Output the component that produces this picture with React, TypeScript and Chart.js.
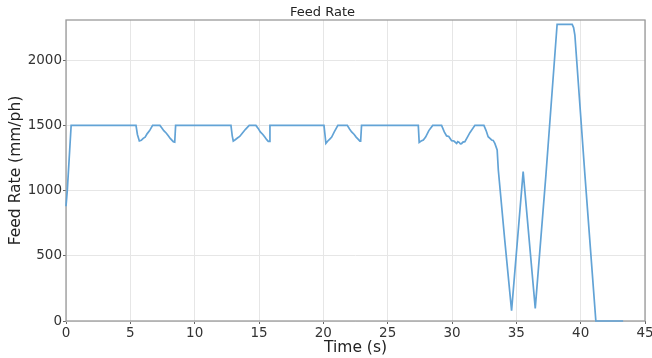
import { useEffect, useRef } from "react";
import { Chart, registerables } from "chart.js";

Chart.register(...registerables);

const timeS = [
  0, 0.1, 0.4, 5.44,
  5.55, 5.7, 5.85, 6.0, 6.15, 6.3, 6.5, 6.73, 7.3, 7.45, 7.6, 7.8, 7.95, 8.1, 8.34, 8.45, 8.52,
  12.82, 12.92, 13.0, 13.15, 13.35, 13.5, 13.7, 13.95, 14.24, 14.76, 14.95, 15.1, 15.3, 15.45, 15.6, 15.72, 15.78, 15.85,
  20.05, 20.2, 20.35, 20.5, 20.65, 20.85, 21.13, 21.86, 22.05, 22.2, 22.4, 22.55, 22.7, 22.84, 22.9, 22.97,
  27.38, 27.45, 27.6, 27.77, 27.95, 28.2, 28.5, 29.19, 29.4, 29.58, 29.75, 29.97, 30.15, 30.36, 30.45, 30.56, 30.65, 30.74, 30.85, 31.0, 31.2, 31.39, 31.78,
  32.48, 32.65, 32.81, 32.95, 33.08, 33.2, 33.33, 33.51, 33.6, 34.1, 34.63,
  35.53, 36.47, 37.3, 38.17, 39.34, 39.45, 39.55, 40.33, 41.18, 43.3,
];

const feedRate = [
  880, 1000, 1500, 1500,
  1430, 1380, 1385, 1400, 1410, 1435, 1460, 1500, 1500, 1480, 1459, 1440, 1420, 1400, 1375, 1372, 1500,
  1500, 1420, 1380, 1390, 1405, 1415, 1440, 1470, 1500, 1500, 1475, 1450, 1430, 1410, 1390, 1378, 1378, 1500,
  1500, 1362, 1380, 1395, 1410, 1450, 1500, 1500, 1470, 1450, 1430, 1410, 1395, 1380, 1380, 1500,
  1500, 1370, 1380, 1388, 1410, 1460, 1500, 1500, 1450, 1419, 1415, 1383, 1380, 1362, 1375, 1370, 1358, 1360, 1372, 1375, 1410, 1444, 1500,
  1500, 1460, 1413, 1400, 1388, 1385, 1362, 1311, 1158, 620, 79,
  1145, 97, 1120, 2275, 2275, 2250, 2193, 1120, 0, 0,
];

const xTicks = [0, 5, 10, 15, 20, 25, 30, 35, 40, 45];
const yTicks = [0, 500, 1000, 1500, 2000];

const FONT = "'DejaVu Sans', sans-serif";

export default function App() {
  const ref = useRef<HTMLCanvasElement>(null);

  useEffect(() => {
    document.body.style.margin = "0";
    const frame = {
      id: "frame",
      beforeDatasetsDraw(chart: any) {
        const { ctx, chartArea } = chart;
        const { left, top, right, bottom } = chartArea;
        ctx.save();
        ctx.strokeStyle = "#9a9a9a";
        ctx.lineWidth = 1.3;
        ctx.strokeRect(left, top, right - left, bottom - top);
        ctx.restore();
      },
    };
    const chart = new Chart(ref.current as HTMLCanvasElement, {
      type: "line",
      data: {
        datasets: [
          {
            data: timeS.map((t, i) => ({ x: t, y: feedRate[i] })),
            borderColor: "#62a3d6",
            borderWidth: 1.7,
            pointRadius: 0,
            tension: 0,
            fill: false,
            clip: 4,
          },
        ],
      },
      options: {
        animation: false,
        responsive: false,
        devicePixelRatio: 1,
        layout: { padding: { left: 0, right: 7, top: 0, bottom: 0 } },
        plugins: {
          legend: { display: false },
          tooltip: { enabled: false },
          title: {
            display: true,
            text: "Feed Rate",
            color: "#222",
            font: { family: FONT, size: 13, weight: "normal" },
            padding: { top: 4.4, bottom: 0 },
          },
        },
        scales: {
          x: {
            type: "linear",
            min: 0,
            max: 45,
            afterBuildTicks: (s: any) => {
              s.ticks = xTicks.map((v) => ({ value: v }));
            },
            afterFit: (s: any) => {
              s.height = 37;
              s.paddingLeft = 0;
              s.paddingRight = 0;
            },
            border: { display: false },
            grid: { color: "#e6e6e6", lineWidth: 1, tickLength: 3, tickColor: "#666" },
            ticks: {
              color: "#333",
              padding: 1,
              maxRotation: 0,
              font: { family: FONT, size: 13.5 },
              callback: (v: any) => String(v),
            },
            title: {
              display: true,
              text: "Time (s)",
              color: "#222",
              font: { family: FONT, size: 15.5 },
              padding: { top: 0, bottom: 1 },
            },
          },
          y: {
            type: "linear",
            min: 0,
            max: 2308,
            afterBuildTicks: (s: any) => {
              s.ticks = yTicks.map((v) => ({ value: v }));
            },
            afterFit: (s: any) => {
              s.width = 66;
              s.paddingTop = 0;
              s.paddingBottom = 0;
            },
            border: { display: false },
            grid: { color: "#e6e6e6", lineWidth: 1, tickLength: 3, tickColor: "#666" },
            ticks: {
              color: "#333",
              padding: 1,
              font: { family: FONT, size: 13.5 },
              callback: (v: any) => String(v),
            },
            title: {
              display: true,
              text: "Feed Rate (mm/ph)",
              color: "#222",
              font: { family: FONT, size: 15.5 },
              padding: { top: 7, bottom: 0 },
            },
          },
        },
      },
      plugins: [frame],
    } as any);
    return () => chart.destroy();
  }, []);

  return (
    <div style={{ position: "absolute", left: 0, top: 0, width: 652, height: 358 }}>
      <canvas ref={ref} width={652} height={358} style={{ display: "block" }} />
    </div>
  );
}
